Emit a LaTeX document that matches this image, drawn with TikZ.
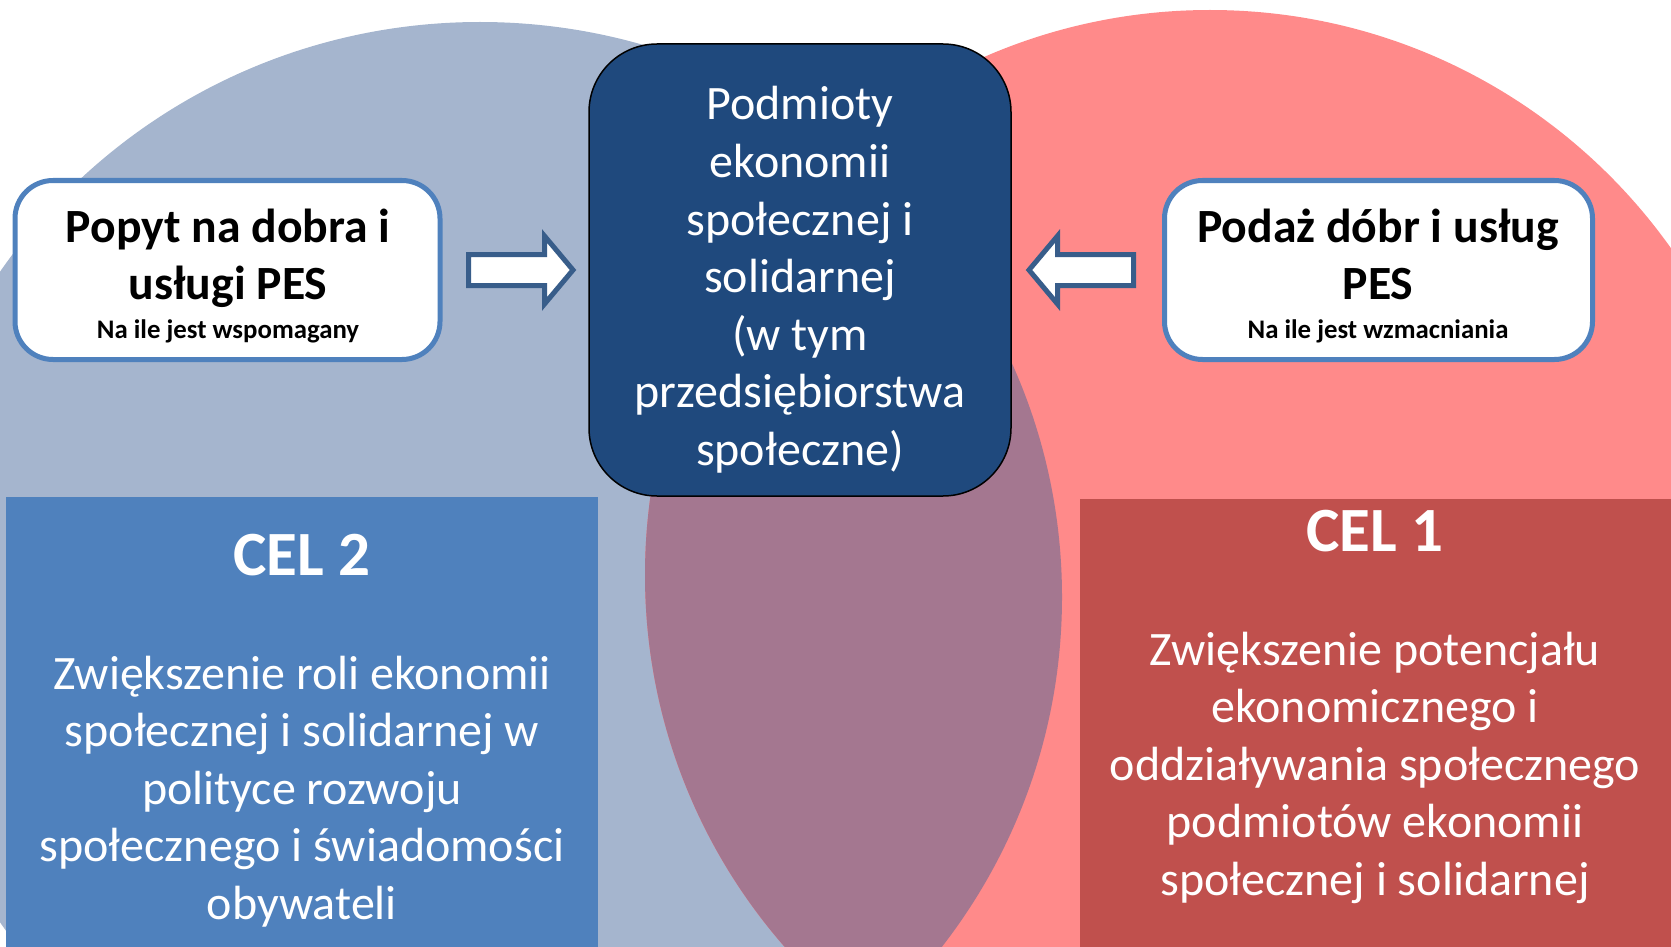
\documentclass[tikz,border=0pt]{standalone}
\usepackage{fontspec}
\setmainfont{Carlito}
\definecolor{circblue}{RGB}{165,181,206}
\definecolor{circred}{RGB}{255,138,138}
\definecolor{lenscol}{RGB}{164,119,144}
\definecolor{pesblue}{RGB}{31,73,125}
\definecolor{celblue}{RGB}{79,129,189}
\definecolor{celred}{RGB}{192,80,77}
\definecolor{arrowline}{RGB}{56,93,138}
\begin{document}
\begin{tikzpicture}[x=1pt,y=-1pt,
  pesbox/.style={draw=black, line width=1.5pt, fill=pesblue, rounded corners=68pt,
    minimum width=422pt, minimum height=452pt, inner sep=0pt},
  whitebox/.style={draw=celblue, line width=5pt, fill=white, rounded corners=38pt,
    minimum width=425pt, minimum height=179pt, inner sep=0pt},
  celbox/.style={inner sep=0pt, anchor=north west},
  blockarrow/.style={draw=arrowline, fill=white, line width=5pt, line join=miter},
  bigtxt/.style={font=\fontsize{48}{57}\selectfont, anchor=base, inner sep=0pt},
  boldtxt/.style={font=\fontsize{47.7}{57}\selectfont\bfseries, anchor=base, inner sep=0pt},
  smalltxt/.style={font=\fontsize{26.8}{32}\selectfont\bfseries, anchor=base, inner sep=0pt},
  celtitle/.style={font=\fontsize{63}{75}\selectfont\bfseries, text=white, anchor=base, inner sep=0pt}
]
\useasboundingbox (0,0) rectangle (1671,947);
% circles
\begin{scope}
  \clip (0,0) rectangle (1671,947);
  \fill[circblue] (480,597) ellipse[x radius=582pt, y radius=575pt];
  \fill[circred] (1210,575) circle[radius=565pt];
  \begin{scope}
    \clip (480,597) ellipse[x radius=582pt, y radius=575pt];
    \fill[lenscol] (1210,575) circle[radius=565pt];
  \end{scope}
\end{scope}

% goal boxes
\node[celbox, fill=celblue, minimum width=592pt, minimum height=450pt] (cel2) at (6,497) {};
\node[celbox, fill=celred, minimum width=591pt, minimum height=448pt] (cel1) at (1080,499) {};

% central box
\node[pesbox] (pes) at (800,270) {};

% side boxes
\node[whitebox] (popyt) at (227.5,270) {};
\node[whitebox, minimum width=428pt] (podaz) at (1378.5,270) {};

% block arrows
\draw[blockarrow] (468.5,254.5) -- (544.5,254.5) -- (544.5,236) -- (573,270)
  -- (544.5,304) -- (544.5,285.5) -- (468.5,285.5) -- cycle;
\draw[blockarrow] (1133.5,254.5) -- (1057.5,254.5) -- (1057.5,236) -- (1029,270)
  -- (1057.5,304) -- (1057.5,285.5) -- (1133.5,285.5) -- cycle;

% central text
\foreach \t [count=\i] in {{Podmioty},{ekonomii},{społecznej i},{solidarnej},{(w tym},{przedsiębiorstwa},{społeczne)}}
  \node[bigtxt, text=white] (pes\i) at (800,{120+57.5*(\i-1)}) {\t};

% side texts
\node[boldtxt] (popyt1) at (228,242) {Popyt na dobra i};
\node[boldtxt] (popyt2) at (228,299.5) {usługi PES};
\node[smalltxt] (popyt3) at (228,338) {Na ile jest wspomagany};
\node[boldtxt] (podaz1) at (1378,242) {Podaż dóbr i usług};
\node[boldtxt] (podaz2) at (1378,299.5) {PES};
\node[smalltxt] (podaz3) at (1378,338) {Na ile jest wzmacniania};

% CEL 2
\node[celtitle] (cel2t) at (302,575) {CEL 2};
\foreach \t [count=\i] in {{Zwiększenie roli ekonomii},{społecznej i solidarnej w},{polityce rozwoju},{społecznego i świadomości},{obywateli}}
  \node[bigtxt, text=white] (celb\i) at (302,{689+57.5*(\i-1)}) {\t};

% CEL 1
\node[celtitle] (cel1t) at (1375,551) {CEL 1};
\foreach \t [count=\i] in {{Zwiększenie potencjału},{ekonomicznego i},{oddziaływania społecznego},{podmiotów ekonomii},{społecznej i solidarnej}}
  \node[bigtxt, text=white] (celr\i) at (1375,{665+57.5*(\i-1)}) {\t};
\end{tikzpicture}
\end{document}
